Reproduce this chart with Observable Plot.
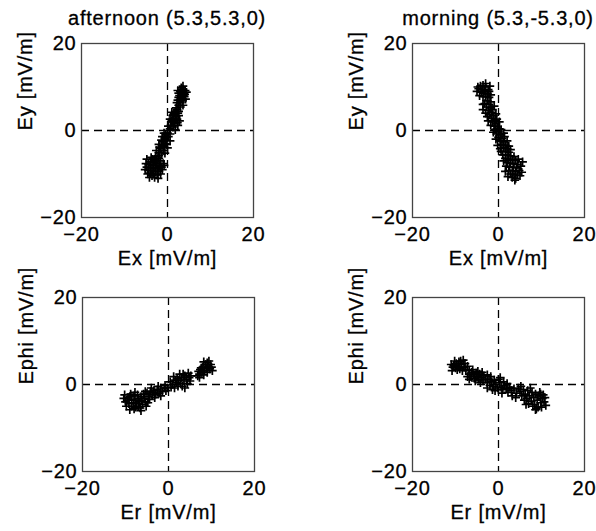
<!DOCTYPE html>
<html>
<head>
<meta charset="utf-8">
<script src="https://cdn.jsdelivr.net/npm/d3@7"></script>
<script src="https://cdn.jsdelivr.net/npm/@observablehq/plot@0.6"></script>
<style>
  html, body { margin: 0; padding: 0; background: #fff; overflow: hidden; }
  #wrap { position: relative; width: 596px; height: 531px; overflow: hidden; background: #fff; }
  .panel { position: absolute; }
  svg.panel text { stroke: #000; stroke-width: 0.3px; }
  .title { position: absolute; text-align: center; font-family: 'Liberation Sans', Arial, sans-serif;
           font-size: 20px; line-height: 20px; letter-spacing: 0.8px; color: #000; white-space: nowrap;
           -webkit-text-stroke: 0.3px #000; }
</style>
</head>
<body>
<div id="wrap"></div>
<script>
// ---- data ----
const tickValues = [-20, 0, 20];
const domain = [-20, 20];
const titles = ["afternoon (5.3,5.3,0)", "morning (5.3,-5.3,0)"];
const xLabels = ["Ex [mV/m]", "Ex [mV/m]", "Er [mV/m]", "Er [mV/m]"];
const yLabels = ["Ey [mV/m]", "Ey [mV/m]", "Ephi [mV/m]", "Ephi [mV/m]"];

// afternoon, Ex vs Ey
const afternoonExEy = [
  [3.2,9.8],[3.6,9.4],[3.0,9.0],[3.8,8.6],[3.4,8.2],[2.8,8.0],[3.9,7.8],[3.2,7.4],[2.6,7.6],[3.5,6.8],[3.0,6.4],
  [3.3,9.0],[3.7,8.0],[2.9,7.0],[3.5,7.2],[4.0,8.3],[3.1,8.6],[2.6,5.8],[3.0,5.4],[3.6,10.2],[2.6,8.6],[4.1,9.2],
  [2.4,7.0],[4.2,7.2],[2.2,6.4],[3.6,5.8],[4.4,8.8],[2.4,9.2],
  [2.2,4.8],[1.8,4.4],[2.4,4.0],[1.4,3.6],[2.0,3.2],[1.2,2.8],[1.8,2.4],[1.0,2.0],[1.6,1.6],[0.8,1.2],[1.3,0.8],
  [0.6,0.4],[2.2,2.6],[1.5,4.0],[1.0,2.2],[0.4,0.0],[2.3,1.8],[2.6,3.4],[2.0,5.2],
  [1.0,4.2],[2.6,4.4],[0.6,2.6],[2.4,1.2],[0.2,1.0],[1.8,0.2],[2.8,2.2],[1.2,3.4],
  [0.0,-0.6],[-0.4,-1.0],[0.2,-1.4],[-0.6,-1.8],[-0.2,-2.2],[-1.0,-2.6],[-0.5,-3.0],[-1.3,-3.4],[-0.8,-3.8],
  [-1.6,-4.2],[-1.0,-4.6],[-2.0,-5.0],[-1.4,-5.4],[-2.2,-5.8],[-0.2,-3.2],[-1.8,-3.8],
  [0.6,-0.8],[-0.8,-0.6],[0.6,-2.4],[-1.4,-2.2],[0.0,-4.0],[-2.0,-3.2],[-0.6,-5.2],[-2.6,-4.6],[-0.4,-1.6],[-1.2,-1.4],
  [-2.8,-6.0],[-2.0,-6.4],[-3.4,-6.6],[-2.6,-7.0],[-1.6,-7.0],[-4.0,-7.2],[-3.2,-7.4],[-2.2,-7.6],[-4.4,-7.8],
  [-3.6,-8.0],[-2.8,-8.0],[-1.8,-8.2],[-4.8,-8.4],[-4.0,-8.6],[-3.2,-8.6],[-2.4,-8.8],[-1.4,-8.4],[-4.4,-9.2],
  [-3.6,-9.2],[-2.8,-9.4],[-2.0,-9.4],[-4.0,-9.8],[-3.2,-10.0],[-2.4,-10.2],[-3.0,-10.8],[-3.6,-10.4],[-1.2,-9.0],
  [-5.0,-7.6],[-4.6,-10.0],[-1.6,-10.0],[-3.0,-6.8],[-0.8,-8.0],
  [-5.2,-9.0],[-4.8,-6.6],[-1.0,-7.6],[-2.2,-11.0],[-4.2,-10.8],[-2.0,-5.8],[-3.8,-6.2]
];

// morning, Ex vs Ey
const morningExEy = [
  [-4.2,10.2],[-3.6,10.4],[-3.0,10.0],[-4.6,9.6],[-3.8,9.4],[-3.2,9.2],[-2.4,9.4],[-4.0,8.8],[-3.4,8.6],
  [-2.6,8.4],[-3.0,7.8],[-2.2,7.6],[-3.6,7.8],[-4.8,10.0],[-2.2,9.0],[-3.0,10.8],
  [-5.0,9.0],[-2.0,10.2],[-4.4,8.0],[-1.8,8.2],
  [-2.6,6.8],[-3.2,6.2],[-2.2,6.0],[-2.8,5.4],[-1.8,5.2],[-2.4,4.6],[-1.6,4.2],[-2.0,3.6],[-1.2,3.4],[-1.6,2.8],
  [-0.8,2.4],[-1.4,2.0],[-0.6,1.6],[-1.0,1.0],[-0.2,0.8],[-0.8,0.2],[0.0,-0.2],[-0.4,-0.8],[0.4,-1.0],[0.0,-1.6],
  [0.8,-1.8],[0.4,-2.4],[1.2,-2.6],[0.8,-3.2],[1.6,-3.4],[1.2,-4.0],[2.0,-4.2],[1.6,-4.8],[0.6,-4.8],[2.4,-5.0],
  [-3.6,6.0],[-1.4,4.8],[-2.6,3.2],[-0.4,2.6],[0.2,0.4],[1.4,-1.4],
  [-1.8,6.6],[-3.6,4.8],[-1.0,5.6],[-3.0,4.0],[-0.6,3.8],[-2.4,2.2],[0.2,2.0],[-1.8,1.2],[0.6,0.2],[-1.2,-0.4],
  [1.2,-0.6],[-0.6,-2.0],[2.0,-2.4],[-0.2,-3.4],[2.4,-3.6],[0.4,-4.2],[2.8,-4.4],
  [2.0,-5.6],[2.8,-5.8],[3.6,-6.0],[1.6,-6.4],[2.4,-6.6],[3.2,-6.8],[4.0,-6.8],[2.0,-7.4],[2.8,-7.6],[3.6,-7.6],
  [4.4,-7.8],[1.8,-8.2],[2.6,-8.4],[3.4,-8.4],[4.2,-8.6],[2.4,-9.2],[3.2,-9.2],[4.0,-9.4],[4.8,-9.2],[2.8,-10.0],
  [3.6,-10.2],[4.4,-10.0],[3.2,-10.8],[4.0,-11.0],[5.0,-10.4],[5.2,-8.2],[1.2,-7.0],[4.6,-6.6],[3.8,-11.4],
  [1.0,-5.6],[5.4,-9.6],[1.6,-9.4],[5.6,-7.2],[2.2,-10.6]
];

// afternoon, Er vs Ephi
const afternoonErEphi = [
  [-9.6,-3.6],[-9.2,-4.4],[-9.0,-2.8],[-8.6,-3.4],[-8.6,-5.0],[-8.2,-4.2],[-8.0,-2.6],[-7.8,-3.6],[-7.6,-5.2],
  [-7.4,-4.4],[-7.2,-2.4],[-7.0,-3.2],[-6.8,-4.0],[-6.6,-5.4],[-6.4,-2.8],[-6.2,-3.6],[-6.0,-4.6],[-5.8,-2.2],
  [-5.6,-3.2],[-5.4,-4.0],[-9.4,-3.0],[-8.0,-5.6],[-7.0,-5.0],[-10.0,-4.0],[-6.4,-6.0],[-8.8,-2.2],
  [-10.4,-3.2],[-9.8,-5.0],[-10.2,-2.4],[-5.2,-5.0],[-4.8,-4.2],[-7.8,-1.8],[-9.0,-5.8],[-5.4,-1.6],
  [-5.0,-2.0],[-4.6,-2.8],[-4.2,-1.6],[-3.8,-2.4],[-3.4,-1.4],[-3.0,-2.2],[-2.6,-1.2],[-2.2,-2.0],[-1.8,-0.8],
  [-1.4,-1.6],[-1.0,-0.8],[-0.6,-1.4],[-4.4,-3.4],
  [-4.0,-0.8],[-3.2,-3.0],[-2.4,-0.4],[-1.8,-2.6],[-0.8,-0.2],[-3.6,-1.8],[-0.2,-0.8],
  [0.6,-0.6],[1.0,0.0],[1.4,-0.8],[1.8,0.4],[2.2,-0.4],[2.4,1.0],[2.8,0.2],[3.0,1.6],[3.2,-0.4],[3.6,0.8],
  [3.8,2.0],[4.2,1.2],[4.4,0.2],[4.8,1.6],[2.0,1.4],[1.6,1.0],[3.4,2.4],[5.0,0.8],
  [1.2,1.8],[0.4,0.6],[5.2,2.0],[3.8,-0.8],[2.6,2.4],[4.6,2.6],
  [7.2,2.4],[7.4,3.4],[7.8,2.8],[8.0,4.0],[8.2,2.2],[8.4,3.2],[8.6,4.6],[8.8,3.8],[9.0,2.8],[9.2,4.2],[9.6,3.6],
  [9.8,4.6],[9.0,5.0],[7.6,3.8],[7.2,1.6],[10.0,4.0],
  [6.8,2.0],[10.2,3.2],[8.2,5.2],[9.4,5.4],[7.0,3.0]
];

// morning, Er vs Ephi
const morningErEphi = [
  [-10.4,4.4],[-10.0,3.8],[-9.8,4.8],[-9.4,4.2],[-9.2,5.2],[-9.0,3.6],[-8.6,4.6],[-8.4,3.2],[-8.0,4.0],[-7.8,4.8],
  [-7.6,3.4],[-9.6,3.4],[-10.6,4.0],[-8.8,5.4],
  [-11.0,4.6],[-10.2,5.4],[-8.2,5.6],[-7.2,4.2],[-10.8,3.2],
  [-6.8,2.4],[-6.4,1.8],[-6.2,2.8],[-5.8,2.2],[-5.6,1.4],[-5.2,2.6],[-5.0,1.8],[-4.6,1.2],[-4.4,2.4],[-4.0,1.6],
  [-3.6,0.8],[-3.4,2.0],[-3.0,1.2],[-6.8,3.2],[-5.4,0.8],
  [-7.2,1.8],[-6.0,3.4],[-4.8,3.0],[-3.8,2.8],[-6.8,1.2],[-4.2,0.4],[-2.6,2.2],
  [-2.6,0.4],[-2.2,1.2],[-2.0,-0.2],[-1.6,0.6],[-1.2,-0.4],[-1.0,1.0],[-0.6,0.0],[-0.2,-0.8],[0.2,0.4],[0.6,-0.6],
  [1.0,-1.2],[1.4,-0.2],[1.8,-1.0],[2.2,-1.8],[2.6,-0.6],[3.0,-1.4],[-1.4,-1.2],[0.0,1.2],
  [-2.6,-0.8],[-1.8,1.8],[-0.8,-1.4],[0.4,1.6],[1.2,0.6],[0.8,-2.0],[2.0,0.2],[3.2,-2.6],
  [3.6,-1.0],[4.2,-2.0],[4.6,-0.8],[5.0,-1.6],[5.4,-2.6],[5.8,-1.2],[6.2,-2.2],[6.6,-3.2],[6.8,-1.4],[7.2,-2.6],
  [7.6,-3.8],[7.8,-1.8],[8.2,-3.0],[8.4,-4.6],[8.6,-2.2],[9.0,-3.6],[9.2,-5.2],[9.4,-2.6],[9.8,-4.2],[10.2,-3.2],
  [10.6,-4.0],[8.0,-5.0],[9.6,-1.8],[7.0,-4.4],[10.8,-3.0],[8.8,-5.6],
  [4.0,-3.0],[5.2,-0.4],[6.0,-3.6],[7.4,-0.8],[8.6,-5.8],[10.0,-5.2],[11.0,-4.8],[9.8,-2.2],[6.4,-4.6],[10.4,-2.4]
];

const panelData = [afternoonExEy, morningExEy, afternoonErEphi, morningErEphi];

// ---- layout ----
const frameW = 172, frameH = 174;
const M = {left: 70, right: 12, top: 10, bottom: 60};
const frames = [[81, 43], [412, 43], [82, 297], [412, 297]];
const font = "'Liberation Sans', Arial, Helvetica, sans-serif";

const wrap = document.getElementById("wrap");

function panel(i) {
  const data = panelData[i];
  const chart = Plot.plot({
    width: M.left + frameW + M.right,
    height: M.top + frameH + M.bottom,
    marginLeft: M.left, marginRight: M.right, marginTop: M.top, marginBottom: M.bottom,
    style: {fontFamily: font, fontSize: "20px", letterSpacing: "0.8px", color: "#000", background: "#fff", overflow: "visible"},
    x: {domain},
    y: {domain},
    marks: [
      Plot.ruleX([0], {stroke: "#000", strokeWidth: 1.3, strokeDasharray: "8,5"}),
      Plot.ruleY([0], {stroke: "#000", strokeWidth: 1.3, strokeDasharray: "8,5"}),
      Plot.dot(data, {x: d => d[0], y: d => d[1], symbol: "plus", r: 2.9, stroke: "#000", strokeWidth: 1.7}),
      Plot.frame({stroke: "#444", strokeWidth: 1.3}),
      Plot.axisX(tickValues, {tickSize: 0, tickPadding: 9, label: null, fill: "#000"}),
      Plot.axisY(tickValues, {tickSize: 0, tickPadding: 5, label: null, fill: "#000"}),
      Plot.text([xLabels[i]], {text: d => d, frameAnchor: "bottom", dy: 41, lineAnchor: "middle", fill: "#000"}),
      Plot.text([yLabels[i]], {text: d => d, frameAnchor: "left", dx: -56, rotate: -90, lineAnchor: "middle", fill: "#000"})
    ]
  });
  chart.classList.add("panel");
  chart.style.left = (frames[i][0] - M.left) + "px";
  chart.style.top = (frames[i][1] - M.top) + "px";
  wrap.appendChild(chart);
}

for (let i = 0; i < 4; i++) panel(i);

titles.forEach((t, j) => {
  const div = document.createElement("div");
  div.className = "title";
  div.textContent = t;
  const w = 260;
  div.style.width = w + "px";
  div.style.left = (frames[j][0] + frameW / 2 - w / 2) + "px";
  div.style.top = "8px";
  wrap.appendChild(div);
});
</script>
</body>
</html>
